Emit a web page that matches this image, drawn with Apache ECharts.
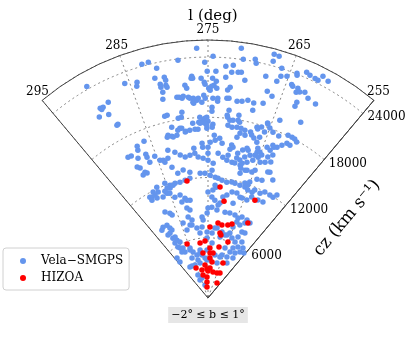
<!DOCTYPE html>
<html>
<head>
<meta charset="utf-8">
<title>Vela-SMGPS cone</title>
<script src="https://cdn.jsdelivr.net/npm/echarts@6.0.0/dist/echarts.min.js"></script>
<style>
  html, body { margin: 0; padding: 0; background: #fff; }
  #main { width: 407px; height: 339px; }
</style>
</head>
<body>
<div id="main"></div>
<script>
// galactic longitude l (deg), cz (km/s)
const velaPoints = [
  [276.3,24900],[271.2,25090],[267.4,25150],[266.8,25090],[282.9,24190],[282.1,24230],[278.6,23870],[275.4,23480],
  [274.4,24080],[270.8,24030],[269.4,24240],[269.2,23870],[267.3,24450],[281.3,23440],[274.0,22600],[272.8,23150],
  [271.9,23320],[275.1,22590],[272.0,22610],[271.2,22690],[270.8,22730],[277.1,22150],[277.2,21960],[277.0,21940],
  [275.9,21900],[275.5,21490],[275.4,21290],[267.7,22830],[266.1,24040],[265.9,23250],[265.2,23450],[264.3,22840],
  [264.1,22730],[264.2,24080],[264.1,23890],[263.2,24550],[262.7,24400],[262.0,24340],[261.6,24300],[261.3,24880],
  [260.5,24680],[281.8,22520],[280.6,22420],[280.5,22090],[284.1,22630],[284.3,22250],[285.6,22930],[289.9,24290],
  [281.3,21820],[281.3,21510],[280.6,21600],[280.5,21390],[281.2,20980],[281.4,20300],[272.7,22060],[270.2,22000],
  [274.4,21900],[273.9,21610],[274.2,21200],[273.8,20910],[274.5,21090],[274.9,20900],[274.7,20700],[278.1,21320],
  [277.9,21000],[272.0,21110],[272.3,20800],[279.4,20240],[279.1,20210],[278.7,20070],[278.5,20250],[277.8,20100],
  [277.6,19980],[277.1,19960],[276.9,19740],[277.2,19560],[277.1,19450],[276.6,19730],[276.4,19920],[275.9,19510],
  [275.6,20200],[275.4,19900],[273.6,19920],[273.6,19630],[274.3,19900],[272.3,19990],[272.0,20010],[270.8,19810],
  [270.1,19890],[269.3,20100],[268.4,19940],[267.1,20160],[266.2,22660],[267.0,21420],[266.2,21080],[263.4,22730],
  [263.4,22290],[263.0,22450],[262.4,22660],[261.7,22250],[262.8,21420],[262.8,20970],[260.5,22090],[288.5,21890],
  [289.8,21740],[289.4,21690],[289.7,21560],[289.2,20790],[290.5,21020],[288.7,19490],[274.4,19000],[274.4,18610],
  [281.3,18660],[279.0,18690],[279.2,18210],[279.7,18160],[276.3,18030],[275.8,17720],[275.5,17910],[275.2,18010],
  [275.0,17610],[276.0,17520],[276.5,17530],[275.5,17410],[271.9,18120],[271.5,17850],[270.2,18470],[270.2,17960],
  [269.9,17800],[265.6,18410],[261.1,19800],[271.8,18820],[268.3,19230],[264.0,19100],[281.7,18610],[277.5,17470],
  [274.2,17320],[275.2,16920],[274.3,17010],[279.4,17110],[278.8,16760],[278.1,16810],[277.2,16870],[281.3,16510],
  [282.1,16530],[280.4,16510],[272.0,18310],[271.0,17880],[271.7,17330],[271.0,17180],[270.2,17260],[269.5,17230],
  [268.8,17110],[267.8,17060],[267.0,17700],[266.3,17840],[265.5,18320],[265.0,18010],[265.6,17460],[266.8,17540],
  [267.5,16800],[266.1,16830],[264.3,17740],[263.2,17600],[261.9,18070],[261.2,18070],[260.7,18040],[260.2,17870],
  [262.1,16910],[262.7,16520],[263.5,16540],[269.9,16280],[269.5,16720],[268.6,16630],[267.0,16570],[266.3,16270],
  [288.9,19450],[287.7,16290],[286.1,16870],[287.5,16690],[289.8,16130],[288.3,15570],[286.7,15600],[286.7,15290],
  [286.6,14710],[285.3,15080],[284.6,14540],[284.0,14440],[283.8,14190],[283.0,14490],[288.8,14600],[288.3,14020],
  [288.9,13840],[288.0,13840],[289.2,14830],[289.2,16070],[281.9,16700],[281.1,16400],[280.1,16980],[279.7,17140],
  [281.0,17390],[278.9,16680],[276.7,16840],[276.3,17430],[275.2,17210],[273.9,16230],[273.7,15740],[272.9,15960],
  [272.4,15490],[270.6,15410],[268.4,15130],[267.7,15420],[276.1,15430],[276.0,15030],[275.0,15020],[274.6,15520],
  [277.7,14990],[282.6,15250],[281.4,14890],[280.5,14500],[279.6,14220],[278.6,14340],[277.6,14490],[277.0,14070],
  [276.0,13940],[275.0,14430],[275.0,13730],[273.9,13440],[273.0,14460],[272.0,14110],[271.1,13860],[271.0,14370],
  [270.0,13740],[269.4,13700],[269.2,14230],[268.5,14100],[267.9,13850],[267.7,14510],[267.0,14080],[266.9,13260],
  [267.8,12840],[270.8,14990],[270.3,15230],[269.2,14730],[268.2,13610],[267.9,13340],[265.8,15730],[265.7,15320],
  [265.2,15420],[265.9,14980],[265.2,14890],[264.7,15210],[266.0,14440],[264.5,14490],[263.6,14670],[263.6,15970],
  [263.5,15250],[267.4,15250],[266.8,14830],[264.3,16130],[263.2,16400],[262.8,15630],[262.6,14910],[261.5,17310],
  [260.9,17270],[266.5,13310],[265.4,13280],[264.9,13570],[261.9,13970],[262.7,12910],[262.3,13890],[260.6,13400],
  [281.8,12790],[280.5,12980],[282.7,13520],[285.3,12220],[284.3,11860],[283.0,11900],[281.8,11870],[280.5,11960],
  [279.3,12070],[275.7,12440],[274.5,12240],[273.3,12060],[272.6,11980],[271.6,11820],[270.4,11690],[269.2,11790],
  [268.4,11750],[267.1,11680],[265.8,11640],[265.3,11930],[273.2,11260],[272.9,11070],[279.1,12660],[276.8,12460],
  [274.1,12740],[265.1,12280],[263.8,12800],[266.1,12020],[264.9,11460],[263.7,11420],[263.3,11720],[261.8,11660],
  [260.9,11980],[259.5,11960],[258.6,11950],[263.3,10960],[261.5,10950],[260.1,11010],[264.2,10500],[258.1,12340],
  [287.4,12160],[288.7,11880],[289.5,11490],[288.5,11170],[287.0,11000],[285.7,11220],[284.5,11580],[283.6,11770],
  [290.0,11590],[288.6,11530],[287.6,11660],[286.0,11470],[285.4,11180],[285.2,11680],[289.9,11230],[285.0,11110],
  [284.1,10570],[282.6,10620],[281.5,10210],[280.2,9910],[282.6,9900],[275.0,10550],[273.9,10060],[273.0,9770],
  [271.4,9530],[270.8,10160],[269.8,10420],[268.6,10820],[267.3,10840],[265.6,10510],[267.6,9770],[266.2,10540],
  [273.7,10760],[281.1,9970],[288.3,9570],[287.1,9260],[286.7,9000],[281.6,9200],[280.8,8940],[281.9,8300],
  [280.8,7920],[281.9,7480],[284.2,7870],[277.1,8080],[276.8,7780],[275.3,8460],[291.2,8360],[289.7,8330],
  [289.3,7930],[292.1,8170],[290.2,6910],[289.1,6540],[288.3,6230],[290.5,6380],[290.3,5890],[289.6,5700],
  [288.3,5560],[289.8,5260],[284.9,5290],[284.0,4810],[282.2,4420],[285.9,4290],[282.4,3910],[280.0,4550],
  [279.0,4320],[277.1,3990],[275.6,4780],[290.1,3570],[288.3,3560],[286.8,2500],[289.0,7660],[291.2,7430],
  [293.9,5040],[294.0,4540],[275.0,8960],[273.8,9060],[272.1,8800],[271.9,9310],[269.4,8720],[267.8,8740],
  [266.0,8690],[264.7,8500],[263.6,8740],[261.7,8680],[261.9,8320],[260.4,8560],[263.2,7930],[264.6,8090],
  [265.3,7490],[272.2,7000],[269.0,6710],[267.5,6490],[265.7,6830],[264.1,6430],[262.1,6190],[261.9,6770],
  [261.4,7390],[260.2,7440],[259.4,6520],[259.8,5890],[261.7,5560],[262.2,5070],[259.5,5220],[265.6,5250],
  [266.0,4500],[262.6,4500],[270.4,4330],[273.5,3790],[267.8,3600],[275.5,5970],[272.9,5490],[290.2,7490],
  [289.2,6900],[288.3,5120],[285.3,5100],[283.6,7080],[281.2,7440],[279.5,7050],[278.5,6520],[277.4,7090],
  [275.4,6570],[273.2,6480],[271.3,7020],[269.4,6190],[266.6,6550],[257.6,5570],[257.5,6070],[255.7,5730],
  [259.0,4690],[279.7,4840],[275.8,3780],[281.4,3570],[266.9,4250],[260.8,3960],[285.8,3530],[283.4,2080],
  [281.5,1330],[287.0,1960]
];

const hizoaPoints = [
  [280.1,11830],[271.9,11110],[270.3,9780],[262.2,10810],[274.2,7070],[271.2,7530],[269.6,7400],[267.4,7530],
  [266.0,7740],[261.0,8460],[269.8,6580],[285.6,5760],[279.1,5530],[276.5,5680],[268.9,5190],[265.2,5920],
  [273.7,4480],[271.8,4500],[273.6,3980],[263.4,3790],[285.9,3210],[281.1,2850],[276.0,2890],[273.1,2990],
  [269.6,2640],[265.1,2640],[262.2,2760],[281.1,2340],[276.4,2090],[276.8,1590],[259.5,1740],[277.6,1100],
  [277.6,3300],[269.2,6400],[271.8,3600],[275.0,2690],[278.2,4500],[273.9,4980]
];

const lTicks = [255, 265, 275, 285, 295];
const czTicks = [6000, 12000, 18000, 24000];
const czMax = 25700;

const serif = 'DejaVu Serif';
const chart = echarts.init(document.getElementById('main'), null, { renderer: 'canvas' });

const polarBox = { center: [208, 298], radius: 258 };

chart.setOption({
  animation: false,
  backgroundColor: '#fff',
  title: {
    text: 'l (deg)',
    left: 208,
    textAlign: 'center',
    top: 4,
    textStyle: { fontFamily: serif, fontSize: 15, fontWeight: 'normal', color: '#000' }
  },
  legend: {
    orient: 'vertical',
    left: 3,
    top: 248,
    padding: [7, 6, 6, 17],
    itemGap: 5,
    itemWidth: 26,
    itemHeight: 6,
    borderColor: '#d0d0d0',
    borderWidth: 1,
    borderRadius: 3,
    backgroundColor: 'rgba(255,255,255,0.8)',
    textStyle: { fontFamily: serif, fontSize: 12, color: '#000' },
    data: [
      { name: 'Vela\u2212SMGPS', icon: 'circle' },
      { name: 'HIZOA', icon: 'circle' }
    ]
  },
  polar: [polarBox, polarBox],
  angleAxis: [
    {
      polarIndex: 0,
      type: 'value',
      min: lTicks[0],
      max: lTicks[lTicks.length - 1],
      interval: 10,
      startAngle: 50,
      endAngle: 130,
      clockwise: false,
      axisLine: { show: true, lineStyle: { color: '#444', width: 1 } },
      axisTick: { show: false },
      axisLabel: {
        fontFamily: serif, fontSize: 12, color: '#000', margin: 5,
        padding: [0, -10, -1, -10]
      },
      splitLine: { show: true, lineStyle: { color: '#666', width: 0.8, type: [2, 3] } }
    },
    {
      polarIndex: 1,
      type: 'value',
      min: lTicks[0],
      max: lTicks[lTicks.length - 1],
      interval: 40,
      startAngle: 50,
      endAngle: 130,
      clockwise: false,
      axisLine: { show: false },
      axisTick: { show: false },
      axisLabel: { show: false },
      splitLine: { show: true, lineStyle: { color: '#444', width: 1 } }
    }
  ],
  radiusAxis: [
    {
      polarIndex: 0,
      type: 'value',
      min: 0,
      max: czMax,
      interval: 6000,
      axisLine: { show: true, lineStyle: { color: '#444', width: 1 } },
      axisTick: { show: false },
      axisLabel: {
        fontFamily: serif, fontSize: 12, color: '#000', margin: -6,
        align: 'left', verticalAlign: 'middle',
        formatter: v => (czTicks.indexOf(v) >= 0 ? String(v) : '')
      },
      splitLine: { show: true, lineStyle: { color: '#666', width: 0.8, type: [2, 3] } }
    },
    {
      polarIndex: 1,
      type: 'value',
      min: 0,
      max: czMax,
      axisLine: { show: false },
      axisTick: { show: false },
      axisLabel: { show: false },
      splitLine: { show: false }
    }
  ],
  series: [
    {
      name: 'Vela\u2212SMGPS',
      type: 'scatter',
      coordinateSystem: 'polar',
      polarIndex: 0,
      symbolSize: 5.5,
      itemStyle: { color: '#6495ED', opacity: 1 },
      data: velaPoints.map(p => [p[1], p[0]])
    },
    {
      name: 'HIZOA',
      type: 'scatter',
      coordinateSystem: 'polar',
      polarIndex: 0,
      symbolSize: 5.5,
      itemStyle: { color: '#ff0000', opacity: 1 },
      data: hizoaPoints.map(p => [p[1], p[0]])
    }
  ],
  graphic: [
    {
      type: 'text',
      x: 347,
      y: 218,
      rotation: 50 * Math.PI / 180,
      style: {
        text: 'cz (km s\u207B\u00B9)',
        fontFamily: serif, fontSize: 17, fill: '#000',
        align: 'center', verticalAlign: 'middle'
      }
    },
    {
      type: 'text',
      x: 208,
      y: 315,
      style: {
        text: '\u22122\u00B0 \u2264 b \u2264 1\u00B0',
        fontFamily: serif, fontSize: 11, fill: '#000',
        align: 'center', verticalAlign: 'middle',
        backgroundColor: '#e6e6e6', padding: [3, 3, 2, 3]
      }
    }
  ]
});
</script>
</body>
</html>
